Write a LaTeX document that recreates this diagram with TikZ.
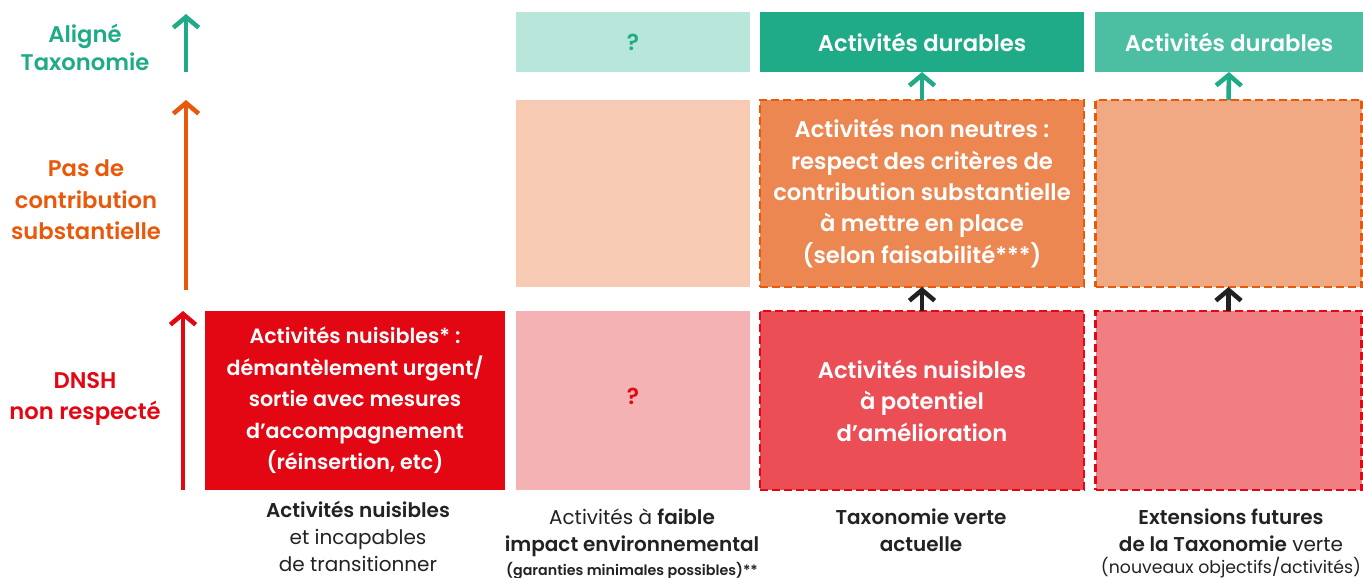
\documentclass[tikz,border=0pt]{standalone}
\usepackage{fontspec}
\setmainfont{Poppins}[BoldFont={Poppins SemiBold}]
\usetikzlibrary{arrows.meta}
\definecolor{gD}{HTML}{20AB88}
\definecolor{gM}{HTML}{4CBEA2}
\definecolor{gL}{HTML}{B8E6DA}
\definecolor{oT}{HTML}{E8590C}
\definecolor{oD}{HTML}{EC8752}
\definecolor{oM}{HTML}{F0A983}
\definecolor{oL}{HTML}{F7CBB3}
\definecolor{rT}{HTML}{E30613}
\definecolor{rD}{HTML}{EC4E55}
\definecolor{rM}{HTML}{F07E82}
\definecolor{rL}{HTML}{F5B2B4}
\definecolor{dk}{HTML}{222222}
\tikzset{
  box/.style={rectangle, inner sep=0pt, outer sep=0pt, align=center, text=white,
    font=\fontsize{17}{23.6}\selectfont\bfseries},
  dashbox/.style={box, draw, line width=2.1pt, dash pattern=on 6pt off 3pt},
  axislabel/.style={align=center, font=\fontsize{17}{23.6}\selectfont\bfseries},
  collabel/.style={align=center, text=dk, font=\fontsize{15}{20}\selectfont},
  arr/.style={line width=3.4pt, -{Straight Barb[length=8pt,width=19pt]}},
}
\begin{document}
\begin{tikzpicture}[x=0.75pt,y=-0.75pt]
\useasboundingbox (0,0) rectangle (1363,578);
% top row
\node[box, fill=gL, text=gD, minimum width={234*0.75pt}, minimum height={60*0.75pt}] (t2) at (633,42) {?};
\node[box, fill=gD, minimum width={324*0.75pt}, minimum height={60*0.75pt}] (t3) at (922,42) {Activités durables};
\node[box, fill=gM, minimum width={268*0.75pt}, minimum height={60*0.75pt}] (t4) at (1229,42) {Activités durables};
% middle row
\node[box, fill=oL, minimum width={234*0.75pt}, minimum height={187*0.75pt}] (m2) at (633,193.5) {};
\node[dashbox, fill=oD, draw=oT, minimum width={324*0.75pt}, minimum height={187*0.75pt}] (m3) at (922,193.5)
  {Activités non neutres :\\respect des critères de\\contribution substantielle\\à mettre en place\\(selon faisabilité***)};
\node[dashbox, fill=oM, draw=oT, minimum width={266*0.75pt}, minimum height={187*0.75pt}] (m4) at (1228.5,193.5) {};
% bottom row
\node[box, fill=rT, font=\fontsize{15.5}{23.6}\selectfont\bfseries, minimum width={300*0.75pt}, minimum height={179*0.75pt}] (b1) at (355,400.5)
  {Activités nuisibles* :\\démantèlement urgent/\\sortie avec mesures\\d’accompagnement\\(réinsertion, etc)};
\node[box, fill=rL, text=rT, minimum width={234*0.75pt}, minimum height={179*0.75pt}] (b2) at (633,400.5) {\raisebox{7pt}{?}};
\node[dashbox, fill=rD, draw=rT, minimum width={324*0.75pt}, minimum height={179*0.75pt}] (b3) at (922,400.5)
  {Activités nuisibles\\à potentiel\\d’amélioration};
\node[dashbox, fill=rM, draw=rT, minimum width={266*0.75pt}, minimum height={179*0.75pt}] (b4) at (1228.5,400.5) {};
% small arrows
\draw[arr, gD] (m3.north) -- (t3.south);
\draw[arr, gD] (m4.north) -- (t4.south);
\draw[arr, dk] (b3.north) -- (m3.south);
\draw[arr, dk] (b4.north) -- (m4.south);
% axis arrows
\coordinate (g0) at (186,72); \coordinate (g1) at (186,14);
\coordinate (o0) at (186,290); \coordinate (o1) at (186,100);
\coordinate (r0) at (183,490); \coordinate (r1) at (183,311);
\draw[arr, gD] (g0) -- (g1);
\draw[arr, oT] (o0) -- (o1);
\draw[arr, rT] (r0) -- (r1);
% axis labels
\node[axislabel, text=gD, font=\fontsize{17}{21}\selectfont\bfseries] (la) at (85,47) {Aligné\\Taxonomie};
\node[axislabel, text=oT] (lb) at (86,200) {Pas de\\contribution\\substantielle};
\node[axislabel, text=rT] (lc) at (85,399) {DNSH\\non respecté};
% column labels
\node[collabel, anchor=north] (c1) at (358,497) {\textbf{Activités nuisibles}\\et incapables\\de transitionner};
\node[collabel, anchor=north] (c2) at (632,504) {Activités à \textbf{faible}\\\textbf{impact environnemental}\\[-2pt]{\fontsize{10.7}{12}\selectfont\bfseries (garanties minimales possibles)**}};
\node[collabel, anchor=north] (c3) at (921,504) {\textbf{Taxonomie verte}\\\textbf{actuelle}};
\node[collabel, anchor=north] (c4) at (1231,504) {\textbf{Extensions futures}\\\textbf{de la Taxonomie} verte\\[-3pt]{\fontsize{13}{15}\selectfont (nouveaux objectifs/activités)}};
\end{tikzpicture}
\end{document}
